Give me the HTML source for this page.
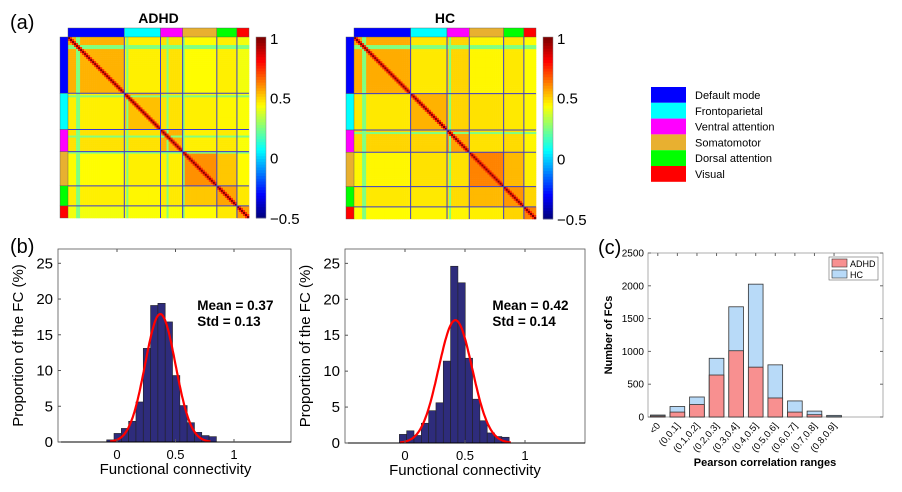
<!DOCTYPE html>
<html><head><meta charset="utf-8"><style>
html,body{margin:0;padding:0;background:#fff;}
svg{display:block;font-family:"Liberation Sans",Arial,sans-serif;}
</style></head><body>
<svg id="fig" width="902" height="492" viewBox="0 0 902 492" xmlns="http://www.w3.org/2000/svg">
<rect width="902" height="492" fill="#fff"/>
<text x="10" y="29" font-size="20">(a)</text>
<text x="10" y="253" font-size="20">(b)</text>
<text x="598" y="254" font-size="20">(c)</text>
<g id="mats"></g>
<g id="legendNet"></g>
<g id="hist"></g>
<g id="barc"></g>
</svg>
<script>
const NS="http://www.w3.org/2000/svg";
const svg=document.getElementById('fig');
function mk(tag,attrs,parent,txt){const e=document.createElementNS(NS,tag);for(const k in attrs)e.setAttribute(k,attrs[k]);if(txt!==undefined)e.textContent=txt;(parent||svg).appendChild(e);return e;}

/* ---------- data ---------- */
const networks=["Default mode","Frontoparietal","Ventral attention","Somatomotor","Dorsal attention","Visual"];
const netColors=["#0000ff","#00ffff","#ff00ff","#e8b030","#00ff00","#ff0000"];
const regionCounts=[28,18,11,17,10,6];
const adhdBlock=[[0.55,0.46,0.48,0.44,0.46,0.42],[0.46,0.53,0.48,0.46,0.45,0.43],[0.48,0.48,0.55,0.46,0.47,0.43],[0.44,0.46,0.46,0.6,0.52,0.44],[0.46,0.45,0.47,0.52,0.57,0.47],[0.42,0.43,0.43,0.44,0.47,0.58]];
const hcBlock=[[0.56,0.47,0.5,0.45,0.47,0.44],[0.47,0.55,0.5,0.48,0.47,0.45],[0.5,0.5,0.57,0.48,0.49,0.45],[0.45,0.48,0.48,0.62,0.54,0.46],[0.47,0.47,0.49,0.54,0.59,0.5],[0.44,0.45,0.45,0.46,0.5,0.62]];
const adhdLowRegions=[4,5,29,49,57];
const hcLowRegions=[4,5,47];

const adhdHist=[0.3,1.2,1.9,2.9,5.6,13.1,19.1,19.4,16.8,9.3,5.1,2.7,1.35,0.9,0.75];
const hcHist=[1.2,1.7,1.05,2.75,4.5,5.6,11.4,24.6,22.3,11.8,6.1,3.1,1.4,0.9,0.8];
const adhdStats={mean:0.37,std:0.13,peak:17.9,binStart:-0.088,binW:0.0625};
const hcStats={mean:0.42,std:0.14,peak:17.1,binStart:-0.047,binW:0.061};
const histYTicks=[0,5,10,15,20,25];
const histXTicks=[0,0.5,1];

const rangeCats=["<0","(0,0.1]","(0.1,0.2]","(0.2,0.3]","(0.3,0.4]","(0.4,0.5]","(0.5,0.6]","(0.6,0.7]","(0.7,0.8]","(0.8,0.9]"];
const adhdCounts=[15,75,190,640,1010,760,290,75,35,5];
const hcCounts=[30,160,305,895,1680,2025,795,245,90,25];
const countTicks=[0,500,1000,1500,2000,2500];

/* ---------- jet colormap ---------- */
function jet(t){t=Math.max(0,Math.min(1,t));
 const r=Math.max(0,Math.min(1,1.5-Math.abs(4*t-3))),g=Math.max(0,Math.min(1,1.5-Math.abs(4*t-2))),b=Math.max(0,Math.min(1,1.5-Math.abs(4*t-1)));
 return `rgb(${Math.round(r*255)},${Math.round(g*255)},${Math.round(b*255)})`;}
function vcol(v){return jet((v+0.5)/1.5);}

/* ---------- matrices ---------- */
function matrix(x0,y0,size,blocks,lows,title,name){
 const g=mk('g',{},document.getElementById('mats'));
 
 
 const N=regionCounts.reduce((a,b)=>a+b,0),c=size/N;
 const netOf=[];regionCounts.forEach((n,k)=>{for(let i=0;i<n;i++)netOf.push(k);});
 for(let i=0;i<N;i++)for(let j=0;j<N;j++){
  let v=blocks[netOf[i]][netOf[j]];
  if(lows.includes(i)||lows.includes(j))v=0.25;
  if(Math.abs(i-j)===1&&netOf[i]===netOf[j])v=0.75;
  if(i===j)v=1;
  const r=mk('rect',{x:x0+j*c,y:y0+i*c,width:c+0.3,height:c+0.3,fill:vcol(v)},g);
  
  
 }
 let acc=0;
 regionCounts.forEach((n,k)=>{
  const s=x0+acc*c,w=n*c;
  const t=mk('rect',{x:s,y:y0-9,width:w,height:9,fill:netColors[k],stroke:'#555','stroke-width':0.4},g);
  
  
  const l=mk('rect',{x:x0-8,y:y0+acc*c,width:8,height:w,fill:netColors[k],stroke:'#555','stroke-width':0.4},g);
  
  
  acc+=n;
  if(k<regionCounts.length-1){
   mk('line',{x1:x0+acc*c,x2:x0+acc*c,y1:y0,y2:y0+size,stroke:'#3a3ad0','stroke-width':1},g);
   mk('line',{y1:y0+acc*c,y2:y0+acc*c,x1:x0,x2:x0+size,stroke:'#3a3ad0','stroke-width':1},g);
  }
 });
 const tt=mk('text',{x:x0+size/2,y:y0-14,'text-anchor':'middle','font-size':14,'font-weight':'bold'},g,title);
 
 
 const cx=x0+size+7,cg=mk('g',{},g);
 
 
 for(let k=0;k<64;k++){mk('rect',{x:cx,y:y0+size-(k+1)*size/64,width:10,height:size/64+0.4,fill:jet(k/63)},cg);}
 mk('rect',{x:cx,y:y0,width:10,height:size,fill:'none',stroke:'#888','stroke-width':0.5},cg);
 [[1,'1'],[0.5,'0.5'],[0,'0'],[-0.5,'\u22120.5']].forEach(([v,s])=>{
  const yy=y0+size-(v+0.5)/1.5*size;
  mk('text',{x:cx+14,y:Math.min(yy+6,y0+size+6)+(v===1?1:0),'font-size':15},cg,s);
 });
}
matrix(68,37,181,adhdBlock,adhdLowRegions,'ADHD','adhd-matrix');
matrix(354,37,182,hcBlock,hcLowRegions,'HC','hc-matrix');

const lg=document.getElementById('legendNet');
networks.forEach((n,k)=>{
 const r=mk('rect',{x:651,y:87+k*15.8,width:35,height:15.8,fill:netColors[k]},lg);
 
 
 const t=mk('text',{x:695,y:99+k*15.8,'font-size':11},lg,n);
 
 
});

/* ---------- histograms ---------- */
function hist(L,R,T,B,x0v,unit,vals,st,name){
 const g=mk('g',{},document.getElementById('hist'));
 
 
 const ymax=27,X=v=>x0v+v*unit,Y=v=>B-v/ymax*(B-T);
 vals.forEach((v,i)=>{
  const a=X(st.binStart+i*st.binW),b=X(st.binStart+(i+1)*st.binW);
  const r=mk('rect',{x:a,y:Y(v),width:b-a,height:B-Y(v),fill:'#2e2c7c',stroke:'#222','stroke-width':0.6},g);
  
  
 });
 let d='';
 for(let k=0;k<=120;k++){const xv=st.mean-3.3*st.std+k*6.6*st.std/120;const yv=st.peak*Math.exp(-0.5*((xv-st.mean)/st.std)**2);d+=(k?'L':'M')+X(xv).toFixed(1)+' '+Y(yv).toFixed(1);}
 const p=mk('path',{d:d,fill:'none',stroke:'#ff0000','stroke-width':2.2},g);
 
 
 mk('rect',{x:L,y:T,width:R-L,height:B-T,fill:'none',stroke:'#555','stroke-width':0.8},g);
 mk('line',{x1:L,x2:R,y1:B,y2:B,stroke:'#000','stroke-width':1},g);
 histYTicks.forEach(v=>{mk('line',{x1:L,x2:L+3,y1:Y(v),y2:Y(v),stroke:'#555'},g);
  mk('text',{x:L-5,y:Y(v)+5,'font-size':15,'text-anchor':'end'},g,String(v));});
 histXTicks.forEach(v=>{mk('line',{x1:X(v),x2:X(v),y1:B,y2:B-3,stroke:'#555'},g);mk('line',{x1:X(v),x2:X(v),y1:T,y2:T+3,stroke:'#555'},g);
  mk('text',{x:X(v),y:B+17,'font-size':13,'text-anchor':'middle'},g,String(v));});
 const xl=mk('text',{x:X(0.5),y:B+32,'font-size':15,'text-anchor':'middle'},g,'Functional connectivity');
 
 
 const yl=mk('text',{x:0,y:0,'font-size':15,'text-anchor':'middle',transform:`translate(${L-35},${(T+B)/2}) rotate(-90)`},g,'Proportion of the FC (%)');
 
 
 const ax=X(st.mean)+37;
 const m=mk('text',{x:ax,y:310,'font-size':13.5,'font-weight':'bold'},g,'Mean = '+st.mean.toFixed(2));
 
 
 const s=mk('text',{x:ax,y:326,'font-size':13.5,'font-weight':'bold'},g,'Std = '+st.std.toFixed(2));
 
 
}
hist(58,291,249,442,117,117,adhdHist,adhdStats,'adhd-histogram');
hist(345,585,249,443,405,120,hcHist,hcStats,'hc-histogram');

/* ---------- panel c ---------- */
(function(){
 const g=document.getElementById('barc');
 
 
 const L=648,R=883,T=253,B=417,X=v=>L+(v-0.5)/12*(R-L),Y=v=>B-v/2500*(B-T),bw=0.75*(R-L)/12;
 mk('rect',{x:L,y:T,width:R-L,height:B-T,fill:'#fff',stroke:'#999','stroke-width':0.8},g);
 countTicks.forEach(v=>{mk('line',{x1:L,x2:L+3,y1:Y(v),y2:Y(v),stroke:'#666'},g);mk('line',{x1:R,x2:R-3,y1:Y(v),y2:Y(v),stroke:'#666'},g);
  mk('text',{x:L-4,y:Y(v)+3.5,'font-size':10,'text-anchor':'end'},g,String(v));});
 rangeCats.forEach((c,i)=>{
  const xc=X(i+1);
  const h=mk('rect',{x:xc-bw/2,y:Y(hcCounts[i]),width:bw,height:B-Y(hcCounts[i]),fill:'#b8daf8',stroke:'#333','stroke-width':0.8},g);
  
  
  const a=mk('rect',{x:xc-bw/2,y:Y(adhdCounts[i]),width:bw,height:B-Y(adhdCounts[i]),fill:'#f89090',stroke:'#333','stroke-width':0.8},g);
  
  
  mk('line',{x1:xc,x2:xc,y1:T,y2:T+3,stroke:'#666'},g);
  const t=mk('text',{x:0,y:0,'font-size':9.5,'text-anchor':'end',transform:`translate(${xc+3},${B+9}) rotate(-50)`},g,c);
  
  
 });
 const lgc=mk('g',{},g);
 
 
 mk('rect',{x:829,y:257,width:49,height:23,fill:'#fff',stroke:'#666','stroke-width':0.6},lgc);
 mk('rect',{x:832,y:259,width:15,height:8,fill:'#f89090',stroke:'#333','stroke-width':0.6},lgc);
 mk('rect',{x:832,y:270,width:15,height:8,fill:'#b8daf8',stroke:'#333','stroke-width':0.6},lgc);
 mk('text',{x:850,y:267,'font-size':9},lgc,'ADHD');
 mk('text',{x:850,y:278,'font-size':9},lgc,'HC');
 const xl=mk('text',{x:765,y:466,'font-size':11,'font-weight':'bold','text-anchor':'middle'},g,'Pearson correlation ranges');
 
 
 const yl=mk('text',{x:0,y:0,'font-size':11,'font-weight':'bold','text-anchor':'middle',transform:`translate(612,${(T+B)/2}) rotate(-90)`},g,'Number of FCs');
 
 
})();
</script>
</body></html>
